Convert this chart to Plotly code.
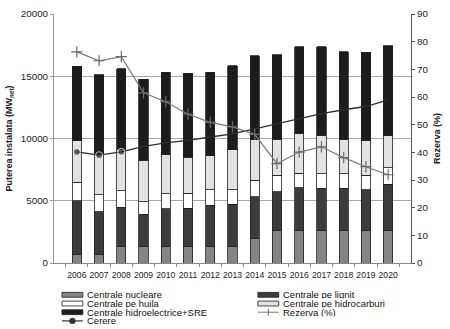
import plotly.graph_objects as go

years = [str(y) for y in range(2006, 2021)]
nucleare = [650, 650, 1300, 1300, 1300, 1300, 1300, 1300, 1950, 2600, 2600, 2600, 2600, 2600, 2600]
lignit = [4350, 3480, 3170, 2600, 3040, 3090, 3330, 3430, 3380, 3130, 3440, 3390, 3390, 3280, 3730]
huila = [1490, 1340, 1330, 1020, 1230, 1230, 1270, 1170, 1310, 1330, 1150, 1170, 1170, 1180, 1330]
hidrocarburi = [3340, 3210, 3320, 3330, 3130, 2880, 2700, 3200, 3260, 2900, 3240, 3110, 2800, 2800, 2560]
hidro_sre = [5960, 6460, 6480, 6520, 6620, 6740, 6720, 6740, 6750, 6770, 6930, 7090, 7010, 7060, 7240]
rezerva = [76.3, 73.1, 74.6, 61.5, 58.3, 53.8, 50.8, 49.2, 46.5, 35.9, 40.1, 42.0, 38.1, 34.8, 31.9]
cerere = [8920, 8660, 8930, 9370, 9650, 9850, 10120, 10380, 10770, 11200, 11610, 12000, 12310, 12570, 13100]
cerere_marked = 3  # markers only on first points

names = ["Centrale nucleare", "Centrale pe lignit", "Centrale pe huila",
         "Centrale pe hidrocarburi", "Centrale hidroelectrice+SRE"]
colors = ["#858585", "#3c3c3c", "#ffffff", "#e2e2e2", "#1c1c1c"]
series = [nucleare, lignit, huila, hidrocarburi, hidro_sre]

FONT = "Liberation Sans, Arial, sans-serif"
W, H = 450, 329
L, R, T, B = 52, 39, 8, 66
PW, PH = W - L - R, H - T - B

fig = go.Figure()
for nm, col, vals in zip(names, colors, series):
    fig.add_trace(go.Bar(x=years, y=vals, name=nm, marker=dict(color=col, line=dict(color="#202020", width=0.8)),
                         width=0.42, showlegend=False))

fig.add_trace(go.Scatter(x=years, y=cerere, name="Cerere", mode="lines+markers",
                         line=dict(color="#2e2e2e", width=1.3),
                         marker=dict(size=[7 if i < cerere_marked else 0 for i in range(len(years))], color="#2e2e2e"),
                         showlegend=False))
fig.add_trace(go.Scatter(x=years, y=rezerva, name="Rezerva (%)", mode="lines+markers", yaxis="y2",
                         line=dict(color="#7a7a7a", width=1.2),
                         marker=dict(symbol="cross-thin", size=8, line=dict(color="#6a6a6a", width=1.2)),
                         showlegend=False))

fig.update_layout(
    width=W, height=H, margin=dict(l=L, r=R, t=T, b=B),
    barmode="stack", plot_bgcolor="white", paper_bgcolor="white",
    font=dict(family=FONT, size=10, color="#222222"),
    xaxis=dict(type="category", tickson="boundaries", ticks="outside", ticklen=3, tickcolor="#888",
               showline=True, linecolor="#888", linewidth=1, tickfont=dict(size=8.6), showgrid=False,
               tickangle=0, ticklabelstandoff=4),
    yaxis=dict(range=[0, 20000], dtick=5000, tickformat="d", showgrid=True, gridcolor="#a8a8a8", gridwidth=1,
               showline=True, linecolor="#999", ticks="outside", ticklen=3, tickcolor="#999",
               tickfont=dict(size=9.8), zeroline=False,
               title=dict(text="<b>Puterea instalata (MW<sub>net</sub>)</b>", font=dict(size=9), standoff=6)),
    yaxis2=dict(range=[0, 90], dtick=10, overlaying="y", side="right", showgrid=False,
                showline=True, linecolor="#555", ticks="outside", ticklen=3, tickcolor="#555",
                tickfont=dict(size=9.8), zeroline=False,
                title=dict(text="<b>Rezerva (%)</b>", font=dict(size=9), standoff=6)),
)

def px(xp):
    return (xp - L) / PW

def py(yp):
    return (H - B - yp) / PH

shapes = []
annots = []
col1_sym, col1_txt = 60, 83
col2_sym, col2_txt = 257, 280
rows = [295.6, 304.5, 313.4, 322.3]
entries = [
    (col1_sym, col1_txt, rows[0], "bar", 0),
    (col2_sym, col2_txt, rows[0], "bar", 1),
    (col1_sym, col1_txt, rows[1], "bar", 2),
    (col2_sym, col2_txt, rows[1], "bar", 3),
    (col1_sym, col1_txt, rows[2], "bar", 4),
    (col2_sym, col2_txt, rows[2], "rez", None),
    (col1_sym, col1_txt, rows[3], "cer", None),
]
for sx, tx, ry, kind, idx in entries:
    if kind == "bar":
        shapes.append(dict(type="rect", xref="paper", yref="paper", x0=px(sx), x1=px(sx + 21),
                           y0=py(ry + 2.5), y1=py(ry - 2.5), fillcolor=colors[idx],
                           line=dict(color="#202020", width=0.8)))
        label = names[idx]
    elif kind == "rez":
        shapes.append(dict(type="line", xref="paper", yref="paper", x0=px(sx), x1=px(sx + 21),
                           y0=py(ry), y1=py(ry), line=dict(color="#7a7a7a", width=1)))
        shapes.append(dict(type="line", xref="paper", yref="paper", x0=px(sx + 10.5), x1=px(sx + 10.5),
                           y0=py(ry + 3.5), y1=py(ry - 3.5), line=dict(color="#6a6a6a", width=1)))
        label = "Rezerva (%)"
    else:
        shapes.append(dict(type="line", xref="paper", yref="paper", x0=px(sx), x1=px(sx + 21),
                           y0=py(ry), y1=py(ry), line=dict(color="#333333", width=1.2)))
        shapes.append(dict(type="circle", xref="paper", yref="paper", x0=px(sx + 7.5), x1=px(sx + 13.5),
                           y0=py(ry + 3), y1=py(ry - 3), fillcolor="#333333", line=dict(color="#333333", width=0.5)))
        label = "Cerere"
    annots.append(dict(text=label, xref="paper", yref="paper", x=px(tx), y=py(ry), xanchor="left",
                       yanchor="middle", showarrow=False, height=8.6, valign="middle",
                       font=dict(size=9.5, family=FONT, color="#111111")))

fig.update_layout(shapes=shapes, annotations=annots)
fig.write_html("out.html")
